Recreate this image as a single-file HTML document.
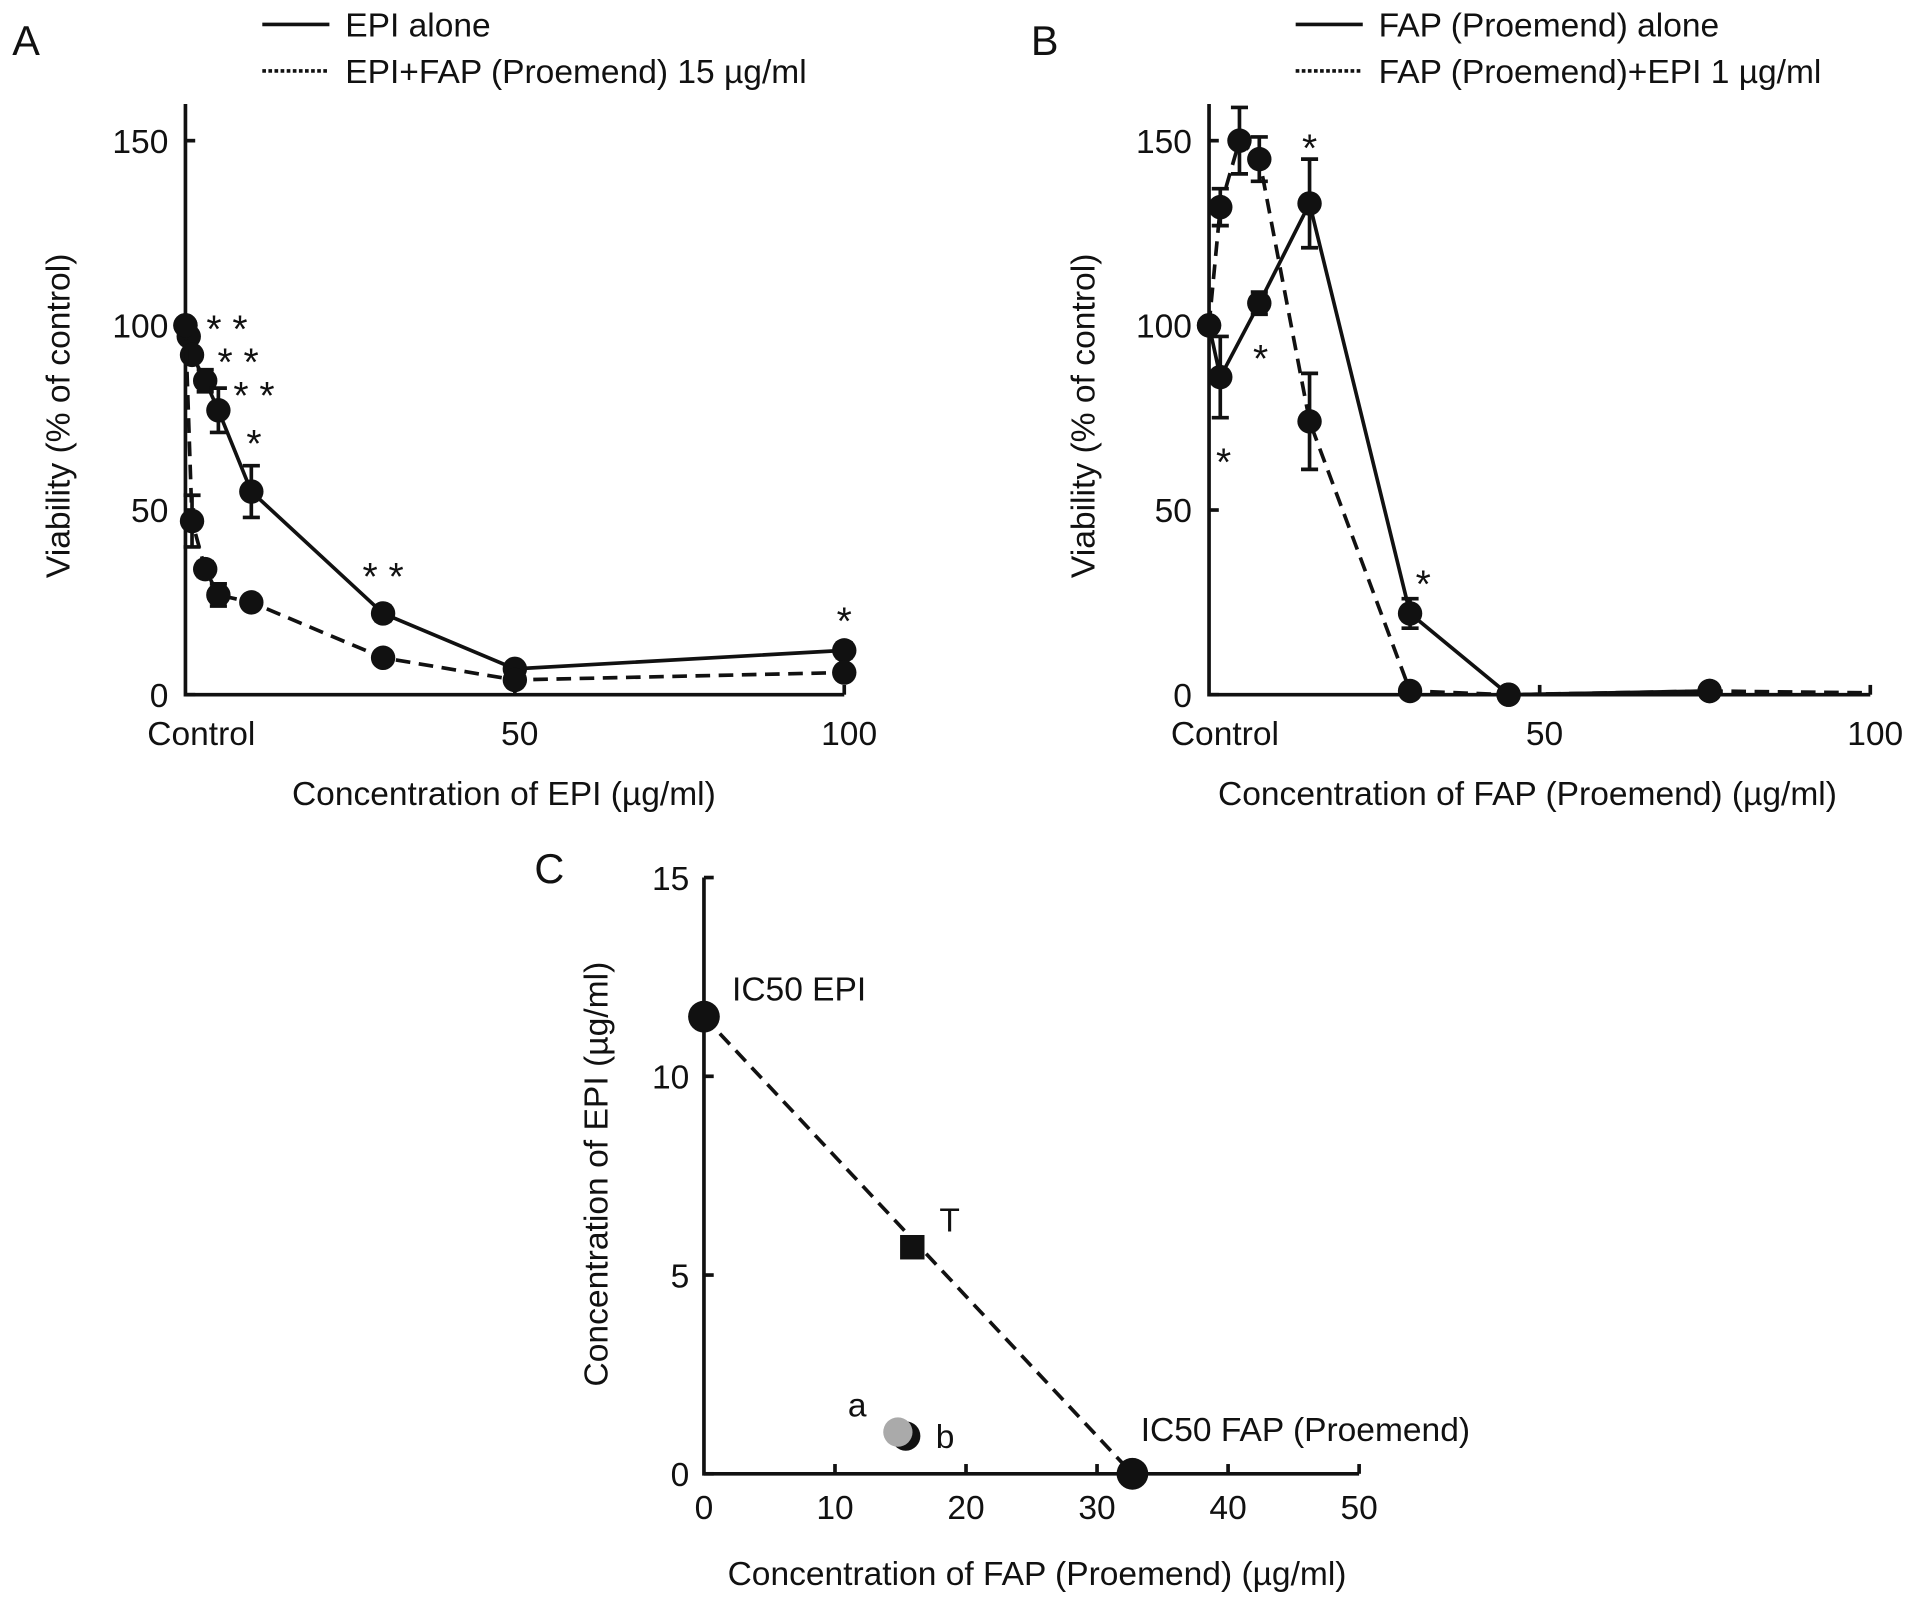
<!DOCTYPE html>
<html><head><meta charset="utf-8">
<style>
html,body{margin:0;padding:0;background:#fff;}
svg{display:block;}
text{font-family:"Liberation Sans",sans-serif;fill:#111;}
</style></head>
<body>
<svg id="fig" width="1913" height="1601" viewBox="0 0 1568 1309" preserveAspectRatio="none" xmlns="http://www.w3.org/2000/svg"></svg>
<script>
// Panel A data
const aSolidX = [0, 0.5, 1, 3, 5, 10, 30, 50, 100];
const aSolidY = [100, 97, 92, 85, 77, 55, 22, 7, 12];
const aSolidErr = [0, 0, 0, 3, 6, 7, 2, 1, 2];
const aDashX = [0, 1, 3, 5, 10, 30, 50, 100];
const aDashY = [100, 47, 34, 27, 25, 10, 4, 6];
const aDashErr = [0, 7, 2, 3, 1, 1, 1, 1];
const aStars = [["* *",6.3,100],["* *",8,91],["* *",10.4,82],["*",10.4,69],["* *",30,33],["*",100,21]];
const aXTicks = ["Control","50","100"];
const aYTicks = [0,50,100,150];
// Panel B data
const bSolidX = [0, 1.7, 7.6, 15.2, 30.4, 45.3, 75.7];
const bSolidY = [100, 86, 106, 133, 22, 0, 1];
const bSolidErr = [0, 11, 3, 12, 4, 0, 0];
const bDashX = [0, 1.7, 4.6, 7.6, 15.2, 30.4, 45.3, 75.7, 100];
const bDashY = [100, 132, 150, 145, 74, 1, 0, 1, 0.5];
const bDashErr = [0, 5, 9, 6, 13, 0, 0, 0, 0];
const bDashMarker = [1,1,1,1,1,1,1,1,0];
const bStars = [["*",2.2,64],["*",7.8,92],["*",15.2,149],["*",32.4,31]];
// Panel C data
const cIc50Epi = 11.5;
const cIc50Fap = 32.7;
const cT = [15.9, 5.7];
const cA = [14.8, 1.05];
const cB = [15.4, 0.95];
const cXTicks = [0,10,20,30,40,50];
const cYTicks = [0,5,10,15];

const FS = 27.5;
const svg = document.getElementById('fig');
const NS = 'http://www.w3.org/2000/svg';
function mk(tag, attrs, parent){const e=document.createElementNS(NS,tag);for(const k in attrs)e.setAttribute(k,attrs[k]);(parent||svg).appendChild(e);return e;}
function txt(s,x,y,size,anchor,parent){const t=mk('text',{x:x,y:y,'font-size':size,'text-anchor':anchor||'start'},parent);t.textContent=s;return t;}

function panel(cfg){
  const g=mk('g',{});
  
  
  const X=v=>cfg.x0+v*cfg.sx, Y=v=>cfg.y0-v*cfg.sy;
  const ax=mk('path',{d:`M${cfg.x0} ${cfg.yTop} V${cfg.y0} H${cfg.xEnd}`,stroke:'#111','stroke-width':3,fill:'none'},g);
  
  
  cfg.yTicks.forEach(v=>{mk('line',{x1:cfg.x0,x2:cfg.x0+8,y1:Y(v),y2:Y(v),stroke:'#111','stroke-width':3},g);
    const t=txt(String(v),cfg.x0-14,Y(v)+10,FS,'end',g);
    
    });
  cfg.xTickVals.forEach((v,i)=>{ if(v>0) mk('line',{x1:X(v),x2:X(v),y1:cfg.y0,y2:cfg.y0-8,stroke:'#111','stroke-width':3},g);
    const t=txt(cfg.xTicks[i],X(v)+(v===0?13:4),cfg.y0+41,FS,'middle',g);
    
    });
  cfg.series.forEach(s=>{
    const d=s.x.map((v,i)=>(i?'L':'M')+X(v)+' '+Y(s.y[i])).join(' ');
    const p=mk('path',{d:d,stroke:'#111','stroke-width':3,fill:'none','stroke-dasharray':s.dash?'12 7':'none'},g);
    
    
    s.x.forEach((v,i)=>{
      if(s.err[i]>0){const cx=X(v),a=Y(s.y[i]+s.err[i]),b=Y(s.y[i]-s.err[i]);
        mk('path',{d:`M${cx} ${a} V${b} M${cx-7} ${a} H${cx+7} M${cx-7} ${b} H${cx+7}`,stroke:'#111','stroke-width':3,fill:'none'},g);}
      if(!s.marker||s.marker[i]){const c=mk('circle',{cx:X(v),cy:Y(s.y[i]),r:10,fill:'#111'},g);
        
        }
    });
  });
  cfg.stars.forEach(s=>{const t=txt(s[0],X(s[1]),Y(s[2])+14,32,'middle',g);
    
    });
  const yl=txt(cfg.ylabel,0,0,FS,'middle',g);yl.setAttribute('transform',`translate(${cfg.ylx},${cfg.yly}) rotate(-90)`);
  
  
  const xl=txt(cfg.xlabel,cfg.xlx,658,FS,'middle',g);
  
  
  const pl=txt(cfg.letter,cfg.lx,45,34,'start',g);
  
  
  mk('line',{x1:cfg.legX,x2:cfg.legX+55,y1:20,y2:20,stroke:'#111','stroke-width':3},g);
  mk('line',{x1:cfg.legX,x2:cfg.legX+55,y1:58,y2:58,stroke:'#111','stroke-width':3,'stroke-dasharray':'3 2'},g);
  const l1=txt(cfg.leg[0],cfg.legX+68,30,FS,'start',g);
  
  
  const l2=txt(cfg.leg[1],cfg.legX+68,68,FS,'start',g);
  
  
}

panel({name:'panel-a',x0:152,y0:568,sx:5.4,sy:3.02,yTop:85,xEnd:692,yTicks:aYTicks,xTicks:aXTicks,xTickVals:[0,50,100],
  series:[{name:'epi-alone-line',x:aSolidX,y:aSolidY,err:aSolidErr,dash:false},{name:'epi-fap-line',x:aDashX,y:aDashY,err:aDashErr,dash:true}],
  stars:aStars,ylabel:'Viability (% of control)',ylx:57,yly:340,xlabel:'Concentration of EPI (µg/ml)',xlx:413,letter:'A',lx:10,legX:215,
  leg:['EPI alone','EPI+FAP (Proemend) 15 µg/ml']});
panel({name:'panel-b',x0:991,y0:568,sx:5.42,sy:3.02,yTop:85,xEnd:1533,yTicks:aYTicks,xTicks:aXTicks,xTickVals:[0,50,100],
  series:[{name:'fap-alone-line',x:bSolidX,y:bSolidY,err:bSolidErr,dash:false},{name:'fap-epi-line',x:bDashX,y:bDashY,err:bDashErr,dash:true,marker:bDashMarker}],
  stars:bStars,ylabel:'Viability (% of control)',ylx:897,yly:340,xlabel:'Concentration of FAP (Proemend) (µg/ml)',xlx:1252,letter:'B',lx:845,legX:1062,
  leg:['FAP (Proemend) alone','FAP (Proemend)+EPI 1 µg/ml']});

(function(){
  const g=mk('g',{});
  
  
  const x0=577,y0=1205,sx=10.74,sy=32.5;
  const X=v=>x0+v*sx, Y=v=>y0-v*sy;
  const ax=mk('path',{d:`M${x0} ${Y(15)} V${y0} H${X(50)}`,stroke:'#111','stroke-width':3,fill:'none'},g);
  
  
  cYTicks.forEach(v=>{mk('line',{x1:x0,x2:x0+8,y1:Y(v),y2:Y(v),stroke:'#111','stroke-width':3},g);
    const t=txt(String(v),x0-12,Y(v)+10,FS,'end',g);
    
    });
  cXTicks.forEach(v=>{if(v>0)mk('line',{x1:X(v),x2:X(v),y1:y0,y2:y0-8,stroke:'#111','stroke-width':3},g);
    const t=txt(String(v),X(v),y0+37,FS,'middle',g);
    
    });
  const ln=mk('line',{x1:X(0),y1:Y(cIc50Epi),x2:X(cIc50Fap),y2:Y(0),stroke:'#111','stroke-width':3,'stroke-dasharray':'12 7'},g);
  
  
  const p1=mk('circle',{cx:X(0),cy:Y(cIc50Epi),r:13,fill:'#111'},g);
  
  
  const p2=mk('circle',{cx:X(cIc50Fap),cy:Y(0),r:13,fill:'#111'},g);
  
  
  const sq=mk('rect',{x:X(cT[0])-10,y:Y(cT[1])-10,width:20,height:20,fill:'#111'},g);
  
  
  const pb=mk('circle',{cx:X(cB[0]),cy:Y(cB[1]),r:12,fill:'#111'},g);
  
  
  const pa=mk('circle',{cx:X(cA[0]),cy:Y(cA[1]),r:12,fill:'#aaa'},g);
  
  
  [['IC50 EPI',600,818],['T',770,1007],['a',695,1158],['b',767,1184],['IC50 FAP (Proemend)',935,1178]].forEach(l=>{
    const t=txt(l[0],l[1],l[2],FS,'start',g);
    
    });
  const yl=txt('Concentration of EPI (µg/ml)',0,0,FS,'middle',g);yl.setAttribute('transform','translate(498,960) rotate(-90)');
  
  
  const xl=txt('Concentration of FAP (Proemend) (µg/ml)',850,1296,FS,'middle',g);
  
  
  const pl=txt('C',438,722,34,'start',g);
  
  
})();
</script>
</body></html>
